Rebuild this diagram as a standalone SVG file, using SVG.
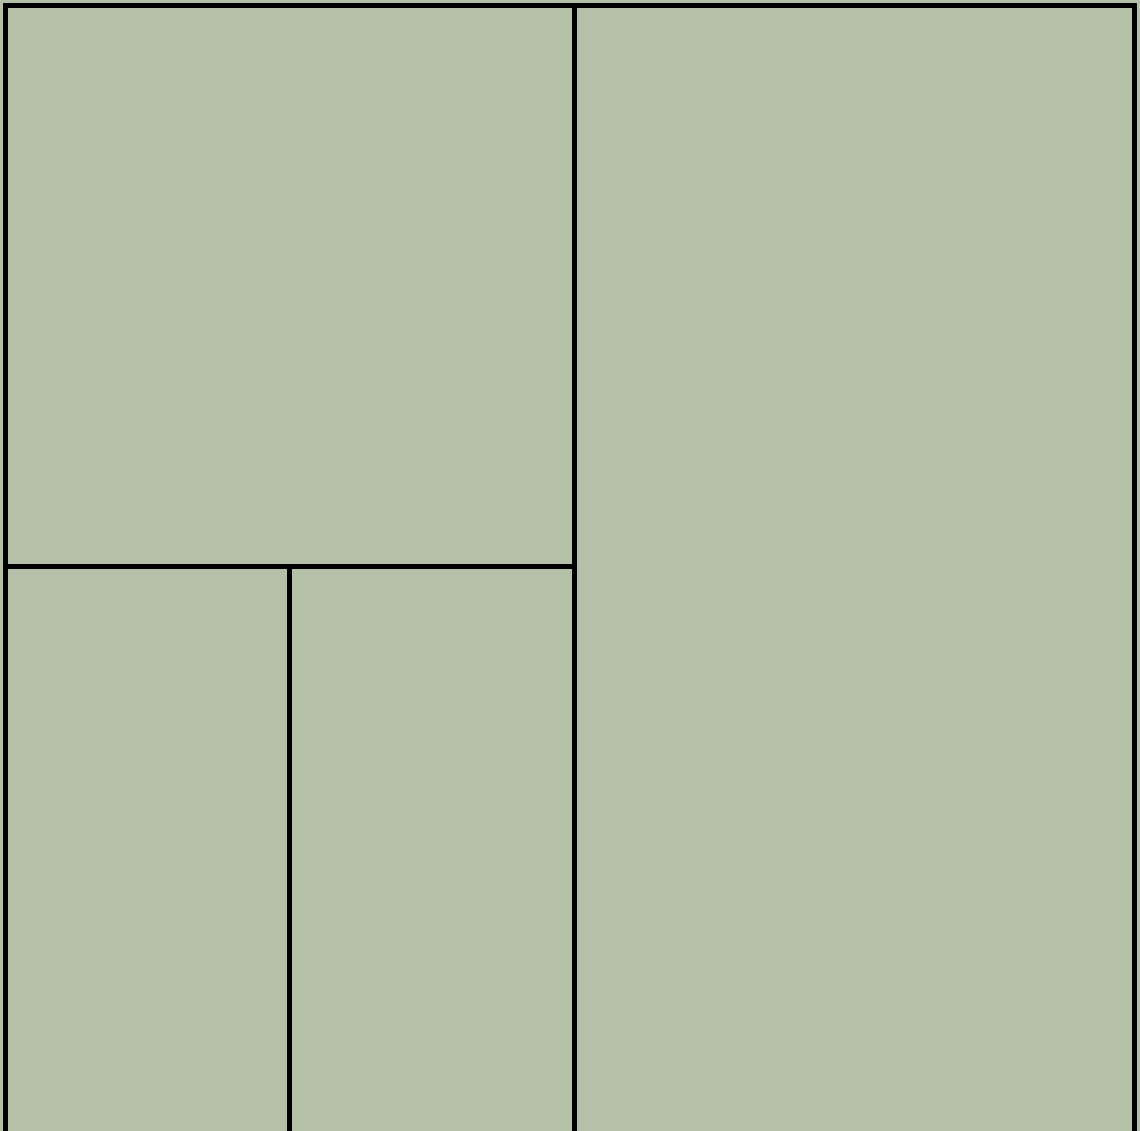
<svg xmlns="http://www.w3.org/2000/svg" width="1140" height="1131" viewBox="0 0 1140 1131">
<style>
.cell{fill:#b4c1a8;stroke:#000;stroke-width:5}
</style>
<rect x="0" y="0" width="1140" height="1131" fill="#b4c1a8"/>
<g id="node-top-left"><rect class="cell" x="5.5" y="5.5" width="569" height="561"/></g>
<g id="node-right"><rect class="cell" x="574.5" y="5.5" width="560" height="1140"/></g>
<g id="node-bottom-left"><rect class="cell" x="5.5" y="566.5" width="284" height="580"/></g>
<g id="node-bottom-middle"><rect class="cell" x="289.5" y="566.5" width="285" height="580"/></g>
<g id="connectors"></g>
</svg>
